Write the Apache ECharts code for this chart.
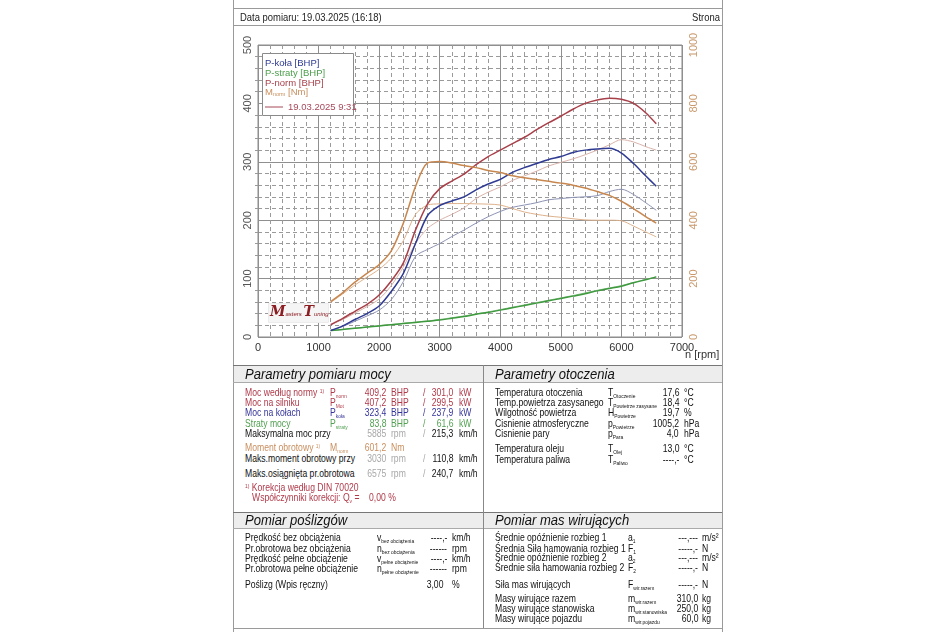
<!DOCTYPE html>
<html><head><meta charset="utf-8">
<script src="https://cdn.jsdelivr.net/npm/echarts@6/dist/echarts.min.js"></script>
<style>
html,body{margin:0;padding:0;background:#fff;}
body{width:950px;height:632px;position:relative;overflow:hidden;font-family:"Liberation Sans",Arial,sans-serif;}
.a{position:absolute;white-space:nowrap;font-size:10.5px;line-height:12px;color:#111;transform:scaleX(0.82);transform-origin:0 50%;}
.a.r{transform-origin:100% 50%;}
.a sub{font-size:6px;vertical-align:-2px;line-height:0;}
.a sup{font-size:6px;vertical-align:3px;line-height:0;}
.hl{position:absolute;height:0;border-top:1px solid #9a9a9a;}
.vl{position:absolute;width:0;border-left:1px solid #9a9a9a;}
.band{position:absolute;background:#ededed;}
.h{position:absolute;font-style:italic;font-size:15px;line-height:16px;color:#111;white-space:nowrap;transform:scaleX(0.87);transform-origin:0 50%;}
#chart{position:absolute;left:233px;top:26px;width:489px;height:338px;}
</style></head>
<body>
<div id="chart"></div>
<script>
// ---------- chart data ----------
const rpm      = [1200,1400,1600,1800,2000,2200,2400,2600,2800,3000,3200,3400,3600,3800,4000,4200,4400,4600,4800,5000,5200,5400,5600,5800,6000,6200,6400,6575];
const pKola    = [11,19,30,40,53,78,109,160,208,225,233,240,252,262,270,282,290,297,304,309,316,320,322,323,315,297,276,258];
const pStraty  = [11,13,15,17,19,21,23,25,27,29,32,35,39,42,46,50,54,58,62,66,70,74,79,83,87,93,98,103];
const pNorm    = [21,32,44,56,72,96,127,183,228,254,267,279,295,309,320,331,342,355,367,378,390,400,406,409,407,400,384,365];
const mNorm    = [121,152,188,218,248,295,390,515,596,601,596,587,580,570,563,552,545,539,533,527,520,510,498,485,465,440,412,390];
// second run 19.03.2025 9:31
const pKola2   = [11,18,27,36,46,64,95,138,150,160,172,183,195,206,215,222,226,230,235,237,239,240,242,249,253,244,230,217];
const pStraty2 = [11,13,15,17,19.5,21.5,23.5,25.5,27.5,30,33,36,39.5,43,47,51,55,59,63,67,71,75.5,80,84,88,93.5,98.5,103];
const pNorm2   = [21,30,41,52,65,88,120,160,186,200,210,221,237,248,257,268,276,284,293,299,305,312,320,329,338,334,326,320];
const mNorm2   = [118,148,178,205,232,270,330,420,452,456,457,457,456,455,452,440,428,420,414,410,405,401,400,400,398,380,360,343];
// axis ticks
const xTicks      = [0,1000,2000,3000,4000,5000,6000,7000];
const yLeftTicks  = [0,100,200,300,400,500];
const yRightTicks = [0,200,400,600,800,1000];

const pair = (v) => rpm.map((r,i)=>[r, v[i]]);
const plain = (v) => String(v);

const C = {kola:'#2f3b93', straty:'#3f9a3f', norm:'#a8404a', m:'#c7874f',
           kola2:'#8d93b3', straty2:'#8cc08c', norm2:'#d9b2aa', m2:'#deb28c'};

const chart = echarts.init(document.getElementById('chart'), null, {renderer:'canvas'});
function line(name, data, color, w, yIdx, z){
  return {name, type:'line', data:pair(data), yAxisIndex:yIdx, smooth:0.3, showSymbol:false, symbol:'none',
          lineStyle:{color, width:w}, z:z, silent:true, animation:false};
}
chart.setOption({
  animation:false,
  textStyle:{fontFamily:'"Liberation Sans", Arial, sans-serif'},
  grid:{left:25,right:40,top:19,bottom:27,show:true,borderColor:'#8a8a8a',borderWidth:1,backgroundColor:'#fff'},
  xAxis:{type:'value',min:xTicks[0],max:xTicks[xTicks.length-1],interval:1000,
    axisLine:{show:false},axisTick:{show:false},
    axisLabel:{color:'#333',fontSize:11,margin:5,formatter:plain},
    splitLine:{show:true,lineStyle:{color:'#8f8f8f',width:1}},
    minorTick:{show:false,splitNumber:5},
    minorSplitLine:{show:true,lineStyle:{color:'#9a9a9a',width:1,type:[4,3]}}},
  yAxis:[
    {type:'value',min:yLeftTicks[0],max:yLeftTicks[yLeftTicks.length-1],interval:100,position:'left',
     axisLine:{show:false},axisTick:{show:false},
     axisLabel:{rotate:90,color:'#555',fontSize:11,margin:5,formatter:plain},
     splitLine:{show:true,lineStyle:{color:'#8f8f8f',width:1}},
     minorTick:{show:true,splitNumber:5,length:3,lineStyle:{color:'#9a9a9a'}},
     minorSplitLine:{show:true,lineStyle:{color:'#9a9a9a',width:1,type:[4,3]}}},
    {type:'value',min:yRightTicks[0],max:yRightTicks[yRightTicks.length-1],interval:200,position:'right',
     axisLine:{show:false},axisTick:{show:false},
     axisLabel:{rotate:90,color:'#c9996b',fontSize:11,margin:6,formatter:plain},
     splitLine:{show:false},minorSplitLine:{show:false}}
  ],
  series:[
    line('P-straty 2', pStraty2, C.straty2, 1, 0, 2),
    line('P-koła 2', pKola2, C.kola2, 1, 0, 2),
    line('P-norm 2', pNorm2, C.norm2, 1, 0, 2),
    line('M-norm 2', mNorm2, C.m2, 1, 1, 2),
    line('P-straty', pStraty, C.straty, 1.5, 0, 3),
    line('P-koła', pKola, C.kola, 1.5, 0, 3),
    line('P-norm', pNorm, C.norm, 1.5, 0, 3),
    line('M-norm', mNorm, C.m, 1.5, 1, 3)
  ],
  graphic:[
    {type:'rect',left:29,top:27,z:10,shape:{width:91,height:62},style:{fill:'#fff',stroke:'#8a8a8a',lineWidth:1}},
    {type:'text',left:32,top:32,z:11,style:{text:'P-koła [BHP]',fill:C.kola,fontSize:9.5}},
    {type:'text',left:32,top:42,z:11,style:{text:'P-straty [BHP]',fill:'#4c9f4c',fontSize:9.5}},
    {type:'text',left:32,top:52,z:11,style:{text:'P-norm [BHP]',fill:C.norm,fontSize:9.5}},
    {type:'text',left:32,top:61,z:11,style:{text:'{a|M}{s|norm}{a| [Nm]}',
       rich:{a:{fontSize:9.5,fill:'#c98f5f'},s:{fontSize:5.5,fill:'#c98f5f',padding:[5,0,0,0]}}}},
    {type:'line',z:11,shape:{x1:32,y1:81,x2:50,y2:81},style:{stroke:'#a8485a',lineWidth:1}},
    {type:'text',left:55,top:76,z:11,style:{text:'19.03.2025 9:31',fill:'#a8485a',fontSize:9.5}},
    {type:'rect',left:35,top:277,z:10,shape:{width:60,height:19},style:{fill:'#f5f5f5',stroke:'#ececec',lineWidth:1}},
    {type:'text',left:37,top:279,z:11,style:{text:'{b|M}{s|asters }{b|T}{s|uning}',
       rich:{b:{fontSize:14,fontStyle:'italic',fontWeight:'bold',fontFamily:'"DejaVu Serif", serif',fill:'#8b1c22'},
             s:{fontSize:6,fontStyle:'italic',fill:'#8b1c22',padding:[5,0,0,0]}}}},
    {type:'text',left:452,top:323,z:11,style:{text:'n [rpm]',fill:'#333',fontSize:11}}
  ]
});

// ---------- page frame & tables ----------
function el(cls, css){const d=document.createElement('div');d.className=cls;Object.assign(d.style,css);document.body.appendChild(d);return d;}
el('vl',{left:'233px',top:'0px',height:'632px'});
el('vl',{left:'722px',top:'0px',height:'632px'});
el('hl',{left:'233px',top:'8px',width:'489px'});
el('hl',{left:'233px',top:'25px',width:'489px'});
el('band',{left:'234px',top:'366px',width:'488px',height:'16px'});
el('band',{left:'234px',top:'513px',width:'488px',height:'15px'});
el('hl',{left:'233px',top:'365px',width:'489px',borderTopColor:'#777'});
el('hl',{left:'233px',top:'382px',width:'489px',borderTopColor:'#aaa'});
el('hl',{left:'233px',top:'512px',width:'489px',borderTopColor:'#777'});
el('hl',{left:'233px',top:'528px',width:'489px',borderTopColor:'#aaa'});
el('hl',{left:'233px',top:'628px',width:'489px'});
el('vl',{left:'483px',top:'365px',height:'263px',borderLeftColor:'#888'});

function T(x,y,html,color,align,size){
  const d=document.createElement('div');d.className='a'+(align==='r'?' r':'');d.innerHTML=html;
  d.style.top=(y-6)+'px';
  if(align==='r') d.style.right=(950-x)+'px'; else d.style.left=x+'px';
  if(color) d.style.color=color;
  if(size) d.style.fontSize=size+'px';
  document.body.appendChild(d);
  return d;
}
function H(x,y,txt){const d=el('h',{left:x+'px',top:(y-8)+'px'});d.textContent=txt;}

T(240,17,'Data pomiaru: 19.03.2025 (16:18)','#222',null,11.5);
T(720,17,'Strona','#222','r',11.5);

const RED='#b03a4a', BLUE='#34349a', GREEN='#52a052', ORG='#c98f5f', GRAY='#a8a8a8', BLK='#111';
H(245,374,'Parametry pomiaru mocy');
H(495,374,'Parametry otoczenia');
H(245,520,'Pomiar poślizgów');
H(495,520,'Pomiar mas wirujących');

// power table
const pw = [
  [392,'Moc według normy <sup>1)</sup>','P<sub>norm</sub>','409,2','BHP','301,0','kW',RED,RED,RED],
  [402,'Moc na silniku','P<sub>Mot</sub>','407,2','BHP','299,5','kW',RED,RED,RED],
  [412,'Moc na kołach','P<sub>koła</sub>','323,4','BHP','237,9','kW',BLUE,BLUE,BLUE],
  [423,'Straty mocy','P<sub>straty</sub>','83,8','BHP','61,6','kW',GREEN,GREEN,GREEN],
  [433,'Maksymalna moc przy','','5885','rpm','215,3','km/h',BLK,GRAY,BLK],
  [458,'Maks.moment obrotowy przy','','3030','rpm','110,8','km/h',BLK,GRAY,BLK],
  [473,'Maks.osiągnięta pr.obrotowa','','6575','rpm','240,7','km/h',BLK,GRAY,BLK]
];
pw.forEach(r=>{
  T(245,r[0],r[1],r[7]); if(r[2]) T(330,r[0],r[2],r[7]);
  T(386,r[0],r[3],r[8],'r'); T(391,r[0],r[4],r[8]); T(423,r[0],'/',r[8]);
  T(453,r[0],r[5],r[9],'r'); T(459,r[0],r[6],r[9]);
});
T(245,447,'Moment obrotowy <sup>1)</sup>',ORG); T(330,447,'M<sub>norm</sub>',ORG);
T(386,447,'601,2',ORG,'r'); T(391,447,'Nm',ORG);
T(245,487,'<sup>1)</sup> Korekcja według DIN 70020',RED);
T(252,497,'Współczynniki korekcji: Q<sub>v</sub> =',RED);
T(369,497,'0,00 %',RED);

// ambient table
const amb = [
  [392,'Temperatura otoczenia','T<sub>Otoczenie</sub>','17,6','°C'],
  [402,'Temp.powietrza zasysanego','T<sub>Powietrze zasysane</sub>','18,4','°C'],
  [412,'Wilgotność powietrza','H<sub>Powietrze</sub>','19,7','%'],
  [423,'Cisnienie atmosferyczne','p<sub>Powietrze</sub>','1005,2','hPa'],
  [433,'Cisnienie pary','p<sub>Para</sub>','4,0','hPa'],
  [448,'Temperatura oleju','T<sub>Olej</sub>','13,0','°C'],
  [459,'Temperatura paliwa','T<sub>Paliwo</sub>','----,-','°C']
];
amb.forEach(r=>{T(495,r[0],r[1]); T(608,r[0],r[2]); T(679,r[0],r[3],null,'r'); T(684,r[0],r[4]);});

// slip table
const slip = [
  [537,'Prędkość bez obciążenia','v<sub>bez obciążenia</sub>','----,-','km/h'],
  [548,'Pr.obrotowa bez obciążenia','n<sub>bez obciążenia</sub>','------','rpm'],
  [558,'Prędkość pełne obciążenie','v<sub>pełne obciążenie</sub>','----,-','km/h'],
  [568,'Pr.obrotowa pełne obciążenie','n<sub>pełne obciążenie</sub>','------','rpm']
];
slip.forEach(r=>{T(245,r[0],r[1]); T(377,r[0],r[2]); T(447,r[0],r[3],null,'r'); T(452,r[0],r[4]);});
T(245,584,'Poślizg (Wpis ręczny)'); T(443,584,'3,00',null,'r'); T(452,584,'%');

// rotating masses table
const mas = [
  [537,'Średnie opóźnienie rozbieg 1','a<sub>1</sub>','---,---','m/s²'],
  [548,'Średnia Siła hamowania rozbieg 1','F<sub>1</sub>','-----,-','N'],
  [557,'Średnie opóźnienie rozbieg 2','a<sub>2</sub>','---,---','m/s²'],
  [567,'Średnie siła hamowania rozbieg 2','F<sub>2</sub>','-----,-','N'],
  [584,'Siła mas wirujących','F<sub>wir.razem</sub>','-----,-','N'],
  [598,'Masy wirujące razem','m<sub>wir.razem</sub>','310,0','kg'],
  [608,'Masy wirujące stanowiska','m<sub>wir.stanowiska</sub>','250,0','kg'],
  [618,'Masy wirujące pojazdu','m<sub>wir.pojazdu</sub>','60,0','kg']
];
mas.forEach(r=>{T(495,r[0],r[1]); T(628,r[0],r[2]); T(698,r[0],r[3],null,'r'); T(702,r[0],r[4]);});
</script>
</body></html>
